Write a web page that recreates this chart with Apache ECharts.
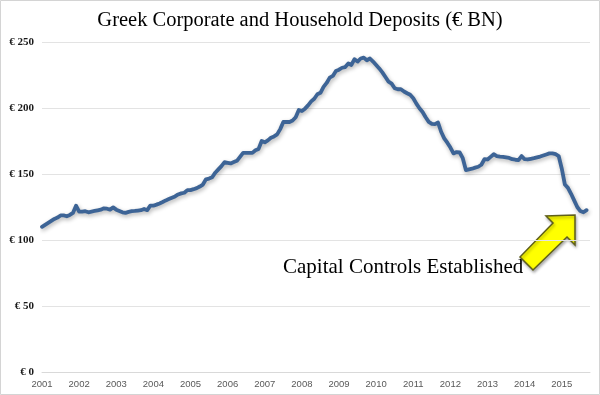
<!DOCTYPE html>
<html>
<head>
<meta charset="utf-8">
<script src="https://cdn.jsdelivr.net/npm/echarts@6/dist/echarts.min.js"></script>
<style>html,body{margin:0;padding:0;background:#fff}#c{width:600px;height:395px}</style>
</head>
<body>
<div id="c"></div>
<script>
// Monthly deposits (€ BN), starting Jan 2001
var startYear = 2001;
var deposits = [
110,111.5,113,114.5,116,117,118.6,118.6,118,119,120.5,126,
121.5,121.5,121.8,121,121.5,122,122.5,123,124,123.7,123,124.7,
123,122,121,120.6,121.3,121.8,122,122.3,122.6,123.5,122.6,126,
126,126.8,127.7,128.8,130,131,132,133,134.5,135.3,135.8,137.8,
137.8,138.5,139.3,140.5,142,146,146.5,147.5,151,153.5,156,159,
158.5,158,159,160,163,166,166,166,166,168,169,175,
174,175.5,177.5,178.5,180,184,189.4,189.4,189.4,190.5,193,198.5,
197.7,199.5,202,205,207,210.4,211.5,216,219,223,224.3,228,
229,230.5,231,233.7,232.6,237,235.2,237.5,238.2,236.2,237.5,235.2,
232.6,230,227,223.5,220,218.5,215,214.2,214.2,212.5,211.2,210,
207.4,203.3,199.8,197,193,189.5,188,187.8,189,182,177,173.7,
170,165.6,166.6,166.3,162,153,153.5,154,154.8,155.5,157,161.2,
161,163,165,163.6,163.2,163,162.6,162.2,161.2,160.8,160.5,163.6,
161.2,161,161.5,162,162.6,163.2,164,164.8,165.6,165.6,165,163.6,
154,142,139.5,135,130,125,121.9,121,122.6
];
var yTicks = [0, 50, 100, 150, 200, 250];
var titleText = 'Greek Corporate and Household Deposits (€ BN)';
var noteText = 'Capital Controls Established';

var seriesData = deposits.map(function (v, i) { return [startYear + i / 12, v]; });

var chart = echarts.init(document.getElementById('c'), null, {renderer: 'canvas'});
chart.setOption({
  animation: false,
  backgroundColor: '#fff',
  title: {
    text: titleText, left: 'center', top: 5,
    textStyle: {fontFamily: 'Liberation Serif', fontSize: 20.5, fontWeight: 'normal', color: '#000'}
  },
  grid: {left: 42, right: 10, top: 42, bottom: 23},
  xAxis: {
    type: 'value', min: startYear, max: 2015.76, interval: 1,
    axisLine: {show: true, lineStyle: {color: '#d9d9d9', width: 1}},
    axisTick: {show: false},
    splitLine: {show: false},
    axisLabel: {
      margin: 7, color: '#595959', fontFamily: 'Liberation Sans', fontSize: 9.5,
      formatter: function (v) { return Math.abs(v - Math.round(v)) < 1e-6 ? String(Math.round(v)) : ''; }
    }
  },
  yAxis: {
    type: 'value', min: yTicks[0], max: yTicks[yTicks.length - 1], interval: 50,
    axisLine: {show: false}, axisTick: {show: false},
    splitLine: {lineStyle: {color: '#e3e3e3', width: 1}},
    axisLabel: {
      margin: 8, color: '#1a1a1a', fontFamily: 'Liberation Serif', fontSize: 11, fontWeight: 'bold',
      formatter: function (v) { return '€ ' + v; }
    }
  },
  series: [{
    type: 'line', data: seriesData, showSymbol: false, smooth: false,
    lineStyle: {color: '#3d6496', width: 3.8, shadowColor: 'rgba(0,0,0,0.3)', shadowBlur: 4, shadowOffsetY: 2, shadowOffsetX: 1, cap: 'round', join: 'round'}
  }],
  graphic: [
    {type: 'rect', shape: {x: 0.5, y: 0.5, width: 599, height: 394}, style: {fill: 'none', stroke: '#d4d4d4', lineWidth: 1}, silent: true},
    {type: 'text', left: 283, top: 257, style: {text: noteText, font: '21px "Liberation Serif"', fill: '#000'}},
    {type: 'polygon', shape: {points: [[520,257],[553,223],[546,216],[575,215],[575,245],[567,237],[533,270]]},
     style: {fill: '#ffff00', stroke: '#5f5f1a', lineWidth: 1.5, shadowColor: 'rgba(0,0,0,0.3)', shadowBlur: 3, shadowOffsetX: 1, shadowOffsetY: 2}}
  ]
});
</script>
</body>
</html>
